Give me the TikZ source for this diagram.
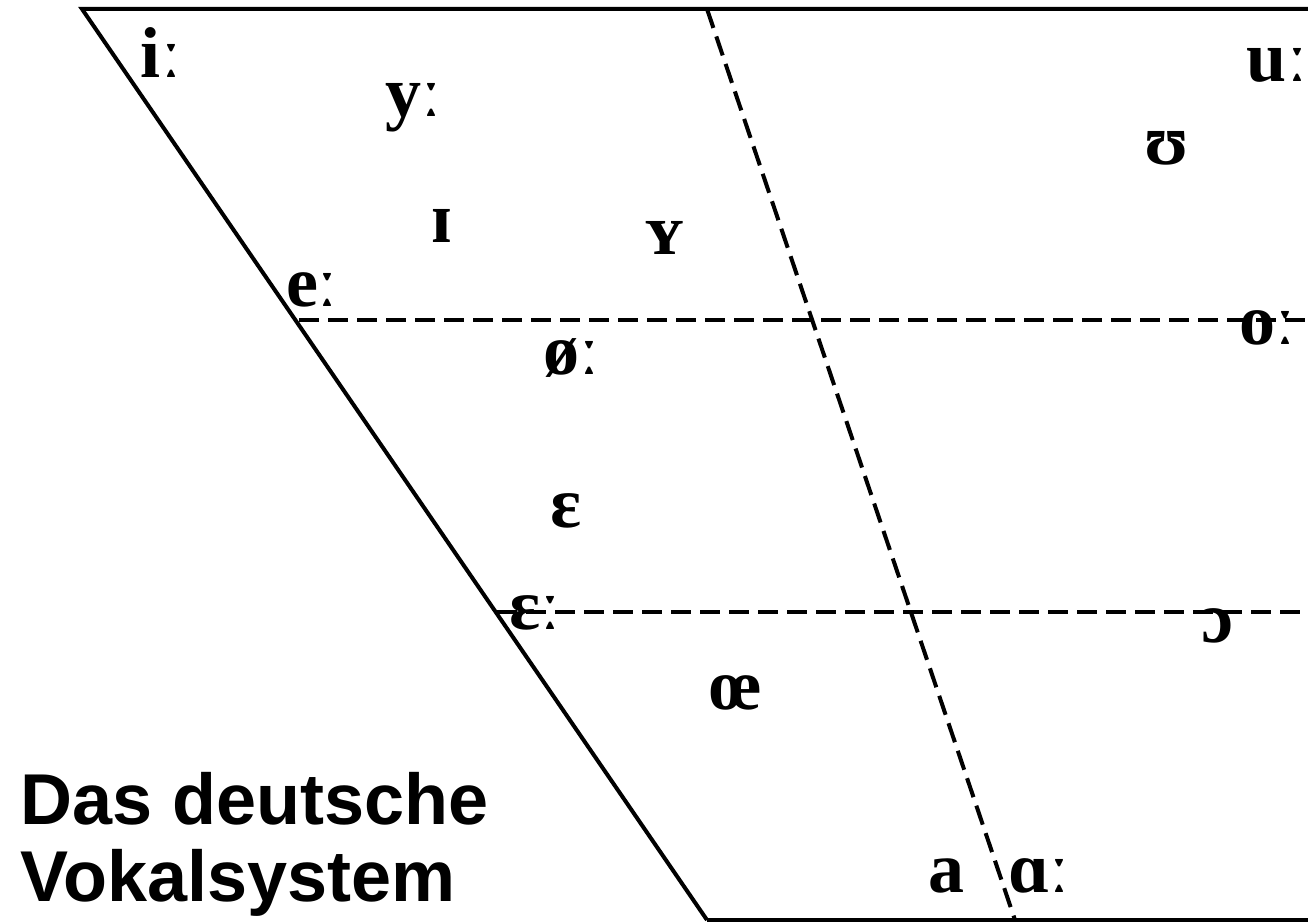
\documentclass[tikz,border=0pt]{standalone}
\usepackage{fontspec}
\setmainfont{Liberation Serif}
\setsansfont{Liberation Sans}

\begin{document}
\begin{tikzpicture}[
    x=0.5pt, y=-0.5pt,
    vowel/.style={anchor=base, inner sep=0pt, font=\fontsize{36}{43}\selectfont\bfseries},
    heading/.style={anchor=base west, inner sep=0pt, font=\fontsize{36}{43}\selectfont\sffamily\bfseries},
    edge/.style={line width=2pt},
    grid/.style={line width=2pt, dash pattern=on 10pt off 4.5pt}
]
\useasboundingbox (0,0) rectangle (1308,924);
% corners of the chart
\coordinate (tl) at (82,9);
\coordinate (tr) at (1308,9);
\coordinate (bl) at (707,920);
\coordinate (br) at (1308,920);
\coordinate (tm) at (707,9);
\coordinate (bm) at (1015,920);
\coordinate (hl1) at (299,320);
\coordinate (hr1) at (1308,320);
\coordinate (hl2) at (497,612);
\coordinate (hr2) at (1308,612);
\draw[edge] (bl) -- (tl) -- (tr);
\draw[edge] (bl) -- (br);
\draw[grid] (tm) -- (bm);
\draw[grid] (hl1) -- (hr1);
\draw[grid] (hl2) -- (hr2);
% vowels
\node[vowel] (ii) at (161,78) {iː};
\node[vowel] (yy) at (413,117) {yː};
\node[vowel] (ih) at (442,243) {ɪ};
\node[vowel] (yh) at (665,255) {ʏ};
\node[vowel] (ee) at (312,307) {eː};
\node[vowel] (oe) at (571,375) {øː};
\node[vowel] (eh) at (566,528) {ɛ};
\node[vowel] (ehh) at (535,630) {ɛː};
\node[vowel] (oel) at (735,710) {œ};
\node[vowel] (a) at (946,893) {a};
\node[vowel] (aa) at (1039,893) {ɑː};
\node[vowel] (uu) at (1277,82) {uː};
\node[vowel] (uh) at (1167,165) {ʊ};
\node[vowel] (oo) at (1267,345) {oː};
\node[vowel] (oh) at (1217,643) {ɔ};
% title
\node[heading] (title1) at (20,825) {Das deutsche};
\node[heading] (title2) at (20,902) {Vokalsystem};
\end{tikzpicture}
\end{document}
